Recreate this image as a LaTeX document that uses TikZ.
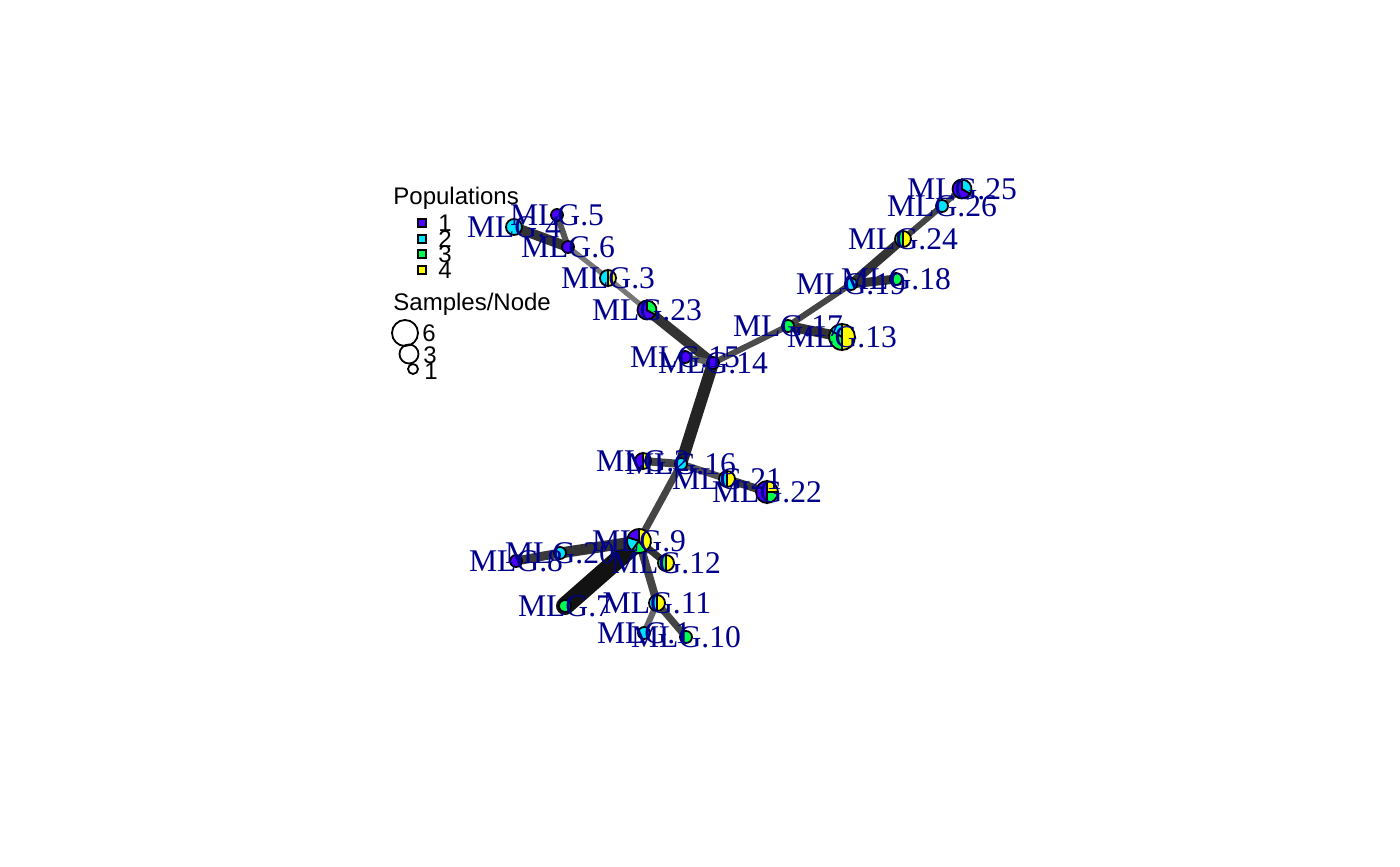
\documentclass[tikz,border=0pt]{standalone}
\usepackage{fontspec}
\setmainfont{Liberation Serif}
\setsansfont{Liberation Sans}
\usetikzlibrary{positioning}
\definecolor{pop1}{HTML}{4C00FF}
\definecolor{pop2}{HTML}{00E5FF}
\definecolor{pop3}{HTML}{00FF4D}
\definecolor{pop4}{HTML}{FFFF00}
\definecolor{lblc}{HTML}{00008B}

% pie vertex: node, radius, slices start/end/colour
\newcommand{\mlgpie}[3]{%
  \foreach \a/\b/\c in {#3}{%
    \filldraw[fill=\c, draw=black, line width=0.9pt]
      (#1) -- ++(\a:#2) arc[start angle=\a, end angle=\b, radius=#2] -- cycle;}}
% one-population vertex
\newcommand{\mlgdot}[3]{%
  \filldraw[fill=#3, draw=black, line width=0.9pt] (#1) circle[radius=#2];}

\begin{document}
\begin{tikzpicture}[
  x=0.5pt, y=-0.5pt,
  vtx/.style={coordinate},
  edge/.style 2 args={draw=#2, line width=#1, line cap=round},
  lbl/.style={font=\fontsize{15.8}{18}\selectfont, text=lblc, inner sep=0pt},
  leg/.style={font=\sffamily\fontsize{12}{14}\selectfont, inner sep=0pt},
  sq/.style={draw=black, line width=0.9pt, minimum size=4pt, inner sep=0pt},
  ring/.style={draw=black, line width=0.9pt, circle, inner sep=0pt},
]
\useasboundingbox (0,0) rectangle (1400,866);

% ── vertices ─────────────────────────────────────────────────────────────────
\foreach \n/\x/\y in {1/644/633, 2/643/461, 3/608/278, 4/514/227, 5/557/215,
    6/568/247, 7/565/606, 8/516/561, 9/639/541, 10/686/637, 11/657/603,
    12/666/563, 13/842/337, 14/713/363, 15/685/357, 16/681/464, 17/788/326,
    18/896/279, 19/851/284, 20/560/553, 21/727/479, 22/767/492, 23/647/310,
    24/903/239, 25/962/189, 26/942/206}
  \node[vtx] (m\n) at (\x,\y) {};

% ── edges (width and shade by distance) ─────────────────────────────────────
\foreach \u/\v/\w/\c in {9/7/9pt/93, 14/16/6pt/86, 23/14/5pt/80,
    4/6/5pt/80, 6/5/3pt/67, 6/3/2.5pt/53, 3/23/2.5pt/53, 15/14/3pt/62,
    14/17/3pt/70, 17/13/5pt/80, 17/19/3pt/73, 19/18/4.5pt/80,
    19/24/4.5pt/80, 24/26/3pt/73, 26/25/2.5pt/67, 2/16/4pt/73,
    16/21/3.5pt/67, 21/22/4pt/77, 16/9/3.5pt/73, 9/20/5.5pt/80,
    20/8/4.5pt/77, 9/12/3.5pt/80, 9/11/4pt/73, 11/10/3.5pt/73,
    11/1/3pt/60}
  \draw[edge={\w}{black!\c}] (m\u) -- (m\v);

% ── pies ─────────────────────────────────────────────────────────────────────
\mlgdot{m1}{3pt}{pop2}
\mlgpie{m2}{4pt}{90/270/pop1, 270/450/pop4}
\mlgpie{m3}{4pt}{90/270/pop2, 270/450/pop4}
\mlgdot{m4}{4pt}{pop2}
\mlgdot{m5}{3pt}{pop1}
\mlgdot{m6}{3pt}{pop1}
\mlgdot{m7}{3pt}{pop3}
\mlgdot{m8}{3pt}{pop1}
\mlgpie{m9}{6pt}{90/162/pop1, 162/234/pop2, 234/306/pop3, 306/450/pop4}
\mlgdot{m10}{3pt}{pop3}
\mlgpie{m11}{4pt}{90/270/pop2, 270/450/pop4}
\mlgpie{m12}{4pt}{90/270/pop3, 270/450/pop4}
\mlgpie{m13}{6.5pt}{90/150/pop2, 150/270/pop3, 270/450/pop4}
\mlgdot{m14}{3pt}{pop1}
\mlgdot{m15}{3pt}{pop1}
\mlgdot{m16}{3pt}{pop2}
\mlgdot{m17}{3pt}{pop3}
\mlgdot{m18}{3pt}{pop3}
\mlgdot{m19}{3pt}{pop2}
\mlgdot{m20}{3pt}{pop2}
\mlgpie{m21}{4pt}{90/270/pop2, 270/450/pop4}
\mlgpie{m22}{5.5pt}{90/270/pop1, 270/360/pop3, 360/450/pop4}
\mlgpie{m23}{4.75pt}{90/330/pop1, 330/450/pop3}
\mlgpie{m24}{4pt}{90/270/pop3, 270/450/pop4}
\mlgpie{m25}{4.75pt}{90/330/pop1, 330/450/pop2}
\mlgdot{m26}{3pt}{pop2}

% ── labels ───────────────────────────────────────────────────────────────────
\foreach \n in {1,...,26}
  \node[lbl] (l\n) at (m\n) {MLG.\n};

% ── legend ───────────────────────────────────────────────────────────────────
\node[leg, anchor=base west] (poptitle) at (393,205) {Populations};
\foreach \k/\y in {1/223, 2/239, 3/254, 4/270}{
  \node[sq, fill=pop\k] (sq\k) at (422,\y) {};
  \node[leg, anchor=west] (sl\k) at (438,\y) {\k};}
\node[leg, anchor=base west] (sizetitle) at (393,310) {Samples/Node};
\node[ring, minimum size=13pt] (c6) at (405,333) {};
\node[ring, minimum size=9.5pt] (c3) at (409,354) {};
\node[ring, minimum size=5pt] (c1) at (413,369) {};
\node[leg, anchor=west] (cl6) at (422,333) {6};
\node[leg, anchor=west] (cl3) at (423,355) {3};
\node[leg, anchor=west] (cl1) at (424,371) {1};

\end{tikzpicture}
\end{document}
